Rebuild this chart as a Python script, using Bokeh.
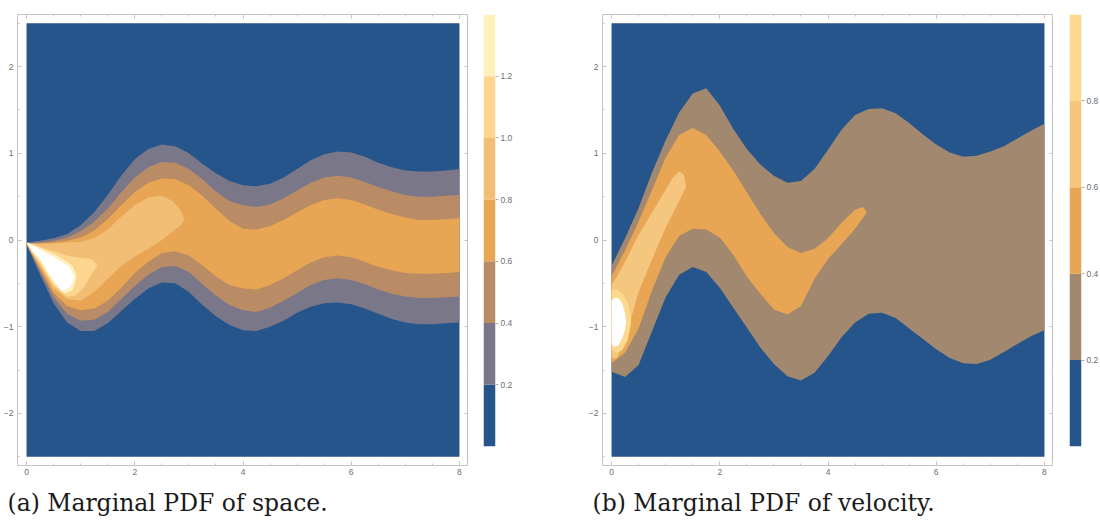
from bokeh.plotting import figure
from bokeh.models import FixedTicker, Title, LinearAxis, Range1d, PrintfTickFormatter
from bokeh.layouts import row
from bokeh.embed import file_html
from bokeh.resources import INLINE

# ---------------- data ----------------
x_domain = [0, 8]
y_domain = [-2.5, 2.5]
x_ticks = [0, 2, 4, 6, 8]
x_minor = [0.5, 1, 1.5, 2.5, 3, 3.5, 4.5, 5, 5.5, 6.5, 7, 7.5]
y_ticks = [-2, -1, 0, 1, 2]
y_minor = [-2.5, -1.5, -0.5, 0.5, 1.5, 2.5]
y_tick_labels = {-2: "\u22122", -1: "\u22121", 0: "0", 1: "1", 2: "2"}

# common x samples for the wide bands
xs = [0, 0.25, 0.5, 0.75, 1.0, 1.25, 1.5, 1.75, 2.0, 2.25, 2.5, 2.75, 3.0, 3.25, 3.5, 3.75,
      4.0, 4.25, 4.5, 4.75, 5.0, 5.25, 5.5, 5.75, 6.0, 6.25, 6.5, 6.75, 7.0, 7.25, 7.5, 7.75, 8.0]

# ---- (a) marginal PDF of space: contour levels 0.2 .. 1.4 ----
levels_a = [0, 0.2, 0.4, 0.6, 0.8, 1.0, 1.2, 1.4]
colors_a = ["#25558a", "#7a7789", "#b98c66", "#e8a553", "#f2be75", "#fcd68f", "#fff1bd"]
cbar_ticks_a = [0.2, 0.4, 0.6, 0.8, 1.0, 1.2]

upper02_a = [-0.03, -0.01, 0.02, 0.07, 0.17, 0.32, 0.52, 0.74, 0.93, 1.05, 1.10, 1.08, 1.00, 0.88, 0.77, 0.68,
             0.63, 0.62, 0.65, 0.72, 0.82, 0.92, 0.99, 1.02, 1.01, 0.96, 0.89, 0.84, 0.80, 0.79, 0.79, 0.80, 0.82]
lower02_a = [-0.05, -0.40, -0.73, -0.95, -1.05, -1.05, -0.96, -0.82, -0.68, -0.56, -0.49, -0.50, -0.60, -0.75, -0.88, -0.98,
             -1.04, -1.05, -1.00, -0.93, -0.84, -0.77, -0.73, -0.72, -0.74, -0.79, -0.85, -0.91, -0.95, -0.97, -0.97, -0.96, -0.95]
upper04_a = [-0.04, -0.03, -0.01, 0.03, 0.10, 0.21, 0.36, 0.55, 0.72, 0.84, 0.90, 0.89, 0.82, 0.70, 0.56, 0.45,
             0.40, 0.38, 0.41, 0.48, 0.57, 0.66, 0.72, 0.74, 0.72, 0.67, 0.61, 0.56, 0.52, 0.50, 0.50, 0.51, 0.52]
lower04_a = [-0.05, -0.36, -0.66, -0.85, -0.93, -0.92, -0.83, -0.68, -0.53, -0.40, -0.31, -0.30, -0.37, -0.51, -0.64, -0.75,
             -0.81, -0.83, -0.78, -0.70, -0.61, -0.52, -0.46, -0.44, -0.46, -0.51, -0.57, -0.62, -0.65, -0.67, -0.67, -0.66, -0.65]
upper06_a = [-0.05, -0.04, -0.03, -0.01, 0.03, 0.11, 0.24, 0.40, 0.55, 0.66, 0.71, 0.70, 0.63, 0.51, 0.36, 0.22,
             0.13, 0.12, 0.16, 0.23, 0.32, 0.40, 0.46, 0.48, 0.46, 0.41, 0.35, 0.30, 0.26, 0.23, 0.23, 0.24, 0.25]
lower06_a = [-0.05, -0.33, -0.61, -0.76, -0.81, -0.79, -0.70, -0.55, -0.38, -0.25, -0.15, -0.13, -0.18, -0.29, -0.42, -0.52,
             -0.56, -0.57, -0.52, -0.44, -0.35, -0.26, -0.20, -0.18, -0.20, -0.25, -0.31, -0.35, -0.38, -0.39, -0.39, -0.38, -0.37]

x08_a = [0, 0.1, 0.25, 0.5, 0.75, 1.0, 1.25, 1.5, 1.75, 2.0, 2.25, 2.5, 2.7, 2.85, 2.92]
upper08_a = [-0.04, -0.04, -0.04, -0.04, -0.03, -0.02, 0.02, 0.12, 0.27, 0.40, 0.49, 0.51, 0.45, 0.34, 0.24]
lower08_a = [-0.04, -0.15, -0.30, -0.56, -0.68, -0.70, -0.60, -0.45, -0.30, -0.19, -0.10, 0.00, 0.10, 0.17, 0.24]

x10_a = [0, 0.1, 0.25, 0.5, 0.75, 0.9, 1.05, 1.2, 1.3]
upper10_a = [-0.03, -0.05, -0.08, -0.13, -0.18, -0.20, -0.21, -0.22, -0.28]
lower10_a = [-0.03, -0.14, -0.27, -0.53, -0.65, -0.64, -0.55, -0.40, -0.30]

x12_a = [0, 0.1, 0.25, 0.5, 0.7, 0.85, 0.92]
upper12_a = [-0.03, -0.05, -0.09, -0.16, -0.23, -0.30, -0.40]
lower12_a = [-0.03, -0.13, -0.25, -0.50, -0.62, -0.58, -0.45]

x14_a = [0, 0.1, 0.25, 0.45, 0.65, 0.8, 0.88]
upper14_a = [-0.03, -0.06, -0.11, -0.18, -0.25, -0.31, -0.42]
lower14_a = [-0.03, -0.12, -0.22, -0.42, -0.59, -0.55, -0.44]

# ---- (b) marginal PDF of velocity: contour levels 0.2 .. 1.0 ----
levels_b = [0, 0.2, 0.4, 0.6, 0.8, 1.0]
colors_b = ["#25558a", "#a2886f", "#e8a553", "#f5c67e", "#fcd98f"]
cbar_ticks_b = [0.2, 0.4, 0.6, 0.8]

upper02_b = [-0.30, 0.02, 0.37, 0.78, 1.15, 1.47, 1.69, 1.75, 1.55, 1.28, 1.05, 0.87, 0.74, 0.66, 0.68, 0.82,
             1.04, 1.27, 1.44, 1.51, 1.52, 1.46, 1.35, 1.22, 1.10, 1.01, 0.96, 0.97, 1.02, 1.08, 1.17, 1.26, 1.34]
lower02_b = [-1.52, -1.58, -1.44, -1.05, -0.66, -0.40, -0.31, -0.37, -0.55, -0.78, -1.01, -1.24, -1.43, -1.57, -1.62, -1.53,
             -1.34, -1.12, -0.95, -0.85, -0.84, -0.90, -1.02, -1.14, -1.26, -1.36, -1.42, -1.43, -1.38, -1.29, -1.20, -1.11, -1.04]

x04_b = [0, 0.25, 0.5, 0.75, 1.0, 1.25, 1.5, 1.75, 2.0, 2.25, 2.5, 2.75, 3.0, 3.25, 3.5, 3.75, 4.0, 4.25, 4.5, 4.65, 4.72]
upper04_b = [-0.42, -0.12, 0.21, 0.58, 0.95, 1.21, 1.29, 1.21, 1.02, 0.80, 0.55, 0.30, 0.08, -0.08, -0.15, -0.10,
             0.02, 0.20, 0.35, 0.38, 0.32]
lower04_b = [-1.42, -1.30, -1.02, -0.58, -0.20, 0.05, 0.13, 0.12, 0.03, -0.17, -0.42, -0.62, -0.80, -0.86, -0.76, -0.45,
             -0.22, -0.05, 0.13, 0.26, 0.32]

x06_b = [0, 0.1, 0.25, 0.5, 0.75, 1.0, 1.12, 1.25, 1.33, 1.38]
upper06_b = [-0.52, -0.42, -0.25, 0.06, 0.32, 0.58, 0.71, 0.79, 0.76, 0.62]
lower06_b = [-1.36, -1.36, -1.15, -0.60, -0.22, 0.14, 0.29, 0.45, 0.55, 0.62]

x08_b = [0, 0.1, 0.2, 0.3, 0.36]
upper08_b = [-0.58, -0.57, -0.62, -0.72, -0.92]
lower08_b = [-1.27, -1.30, -1.27, -1.15, -0.97]

x10_b = [0, 0.05, 0.12, 0.2, 0.25, 0.27]
upper10_b = [-0.70, -0.67, -0.67, -0.73, -0.85, -0.95]
lower10_b = [-1.20, -1.23, -1.22, -1.13, -1.03, -0.95]

captions = ["(a) Marginal PDF of space.", "(b) Marginal PDF of velocity."]

TICK_FONT = "Liberation Sans"
CAPTION_FONT = "DejaVu Serif"
TICK_COLOR = "#6e6e6e"
FRAME_COLOR = "#c4c4c4"


def style_axis(ax, ticks, minor, overrides=None, standoff=3):
    ax.ticker = FixedTicker(ticks=ticks, minor_ticks=minor)
    ax.axis_line_color = None
    ax.major_tick_in = 4
    ax.major_tick_out = 0
    ax.minor_tick_in = 2
    ax.minor_tick_out = 0
    ax.major_tick_line_color = FRAME_COLOR
    ax.minor_tick_line_color = FRAME_COLOR
    ax.major_label_standoff = standoff
    ax.major_label_text_font = TICK_FONT
    ax.major_label_text_font_size = "8.5px"
    ax.major_label_text_color = TICK_COLOR
    if overrides:
        ax.major_label_overrides = overrides


def tick_only_axis(positions, length):
    ax = LinearAxis(ticker=FixedTicker(ticks=[], minor_ticks=positions))
    ax.axis_line_color = None
    ax.major_tick_line_color = None
    ax.minor_tick_in = length
    ax.minor_tick_out = 0
    ax.minor_tick_line_color = FRAME_COLOR
    ax.major_label_standoff = 0
    return ax


def make_main(bands, caption):
    p = figure(frame_width=451, frame_height=451,
               x_range=Range1d(-0.167, 8.167), y_range=Range1d(-2.6, 2.6),
               output_backend="svg", toolbar_location=None,
               min_border_left=17, min_border_right=0, min_border_top=5, min_border_bottom=65)
    p.grid.visible = False
    p.outline_line_color = FRAME_COLOR
    p.background_fill_color = "white"
    p.border_fill_color = "white"
    style_axis(p.xaxis[0], x_ticks, x_minor, standoff=3)
    style_axis(p.yaxis[0], y_ticks, y_minor, overrides=y_tick_labels, standoff=4)
    p.add_layout(tick_only_axis(x_ticks, 4), "above")
    p.add_layout(tick_only_axis(x_minor, 2), "above")
    p.add_layout(tick_only_axis(y_ticks, 4), "right")
    p.add_layout(tick_only_axis(y_minor, 2), "right")

    p.quad(left=[x_domain[0]], right=[x_domain[1]], bottom=[y_domain[0]], top=[y_domain[1]],
           fill_color=bands[0][3], line_color=None)
    for bx, lo, hi, col in bands[1:]:
        p.varea(x=bx, y1=lo, y2=hi, fill_color=col)

    p.add_layout(Title(text=caption, align="left", offset=-10, standoff=19,
                       text_font=CAPTION_FONT, text_font_size="23.5px",
                       text_font_style="normal", text_color="#1a1a1a"), "below")
    return p


def make_cbar(levels, colors, ticks, left_pad, right_pad):
    c = figure(frame_width=12, frame_height=432,
               x_range=Range1d(0, 1), y_range=Range1d(levels[0], levels[-1]),
               output_backend="svg", toolbar_location=None,
               min_border_left=left_pad, min_border_right=right_pad,
               min_border_top=14, min_border_bottom=75)
    c.grid.visible = False
    c.axis.visible = False
    c.outline_line_color = None
    c.quad(left=0, right=1, bottom=levels[:-1], top=levels[1:], fill_color=colors, line_color=None)
    ax = LinearAxis(ticker=FixedTicker(ticks=ticks), formatter=PrintfTickFormatter(format="%.1f"))
    ax.axis_line_color = None
    ax.major_tick_in = 0
    ax.major_tick_out = 3
    ax.minor_tick_line_color = None
    ax.major_tick_line_color = "#b0b0b0"
    ax.major_label_standoff = 2
    ax.major_label_text_font = TICK_FONT
    ax.major_label_text_font_size = "8.5px"
    ax.major_label_text_color = TICK_COLOR
    c.add_layout(ax, "right")
    return c


bands_a = [
    (None, None, None, colors_a[0]),
    (xs, lower02_a, upper02_a, colors_a[1]),
    (xs, lower04_a, upper04_a, colors_a[2]),
    (xs, lower06_a, upper06_a, colors_a[3]),
    (x08_a, lower08_a, upper08_a, colors_a[4]),
    (x10_a, lower10_a, upper10_a, colors_a[5]),
    (x12_a, lower12_a, upper12_a, colors_a[6]),
    (x14_a, lower14_a, upper14_a, "#ffffff"),
]
bands_b = [
    (None, None, None, colors_b[0]),
    (xs, lower02_b, upper02_b, colors_b[1]),
    (x04_b, lower04_b, upper04_b, colors_b[2]),
    (x06_b, lower06_b, upper06_b, colors_b[3]),
    (x08_b, lower08_b, upper08_b, colors_b[4]),
    (x10_b, lower10_b, upper10_b, "#ffffff"),
]

pa = make_main(bands_a, captions[0])
ca = make_cbar(levels_a, colors_a, cbar_ticks_a, 15, 90)
pb = make_main(bands_b, captions[1])
cb = make_cbar(levels_b, colors_b, cbar_ticks_b, 16, 19)

layout = row(pa, ca, pb, cb)
open("out.html", "w").write(file_html(layout, INLINE))
